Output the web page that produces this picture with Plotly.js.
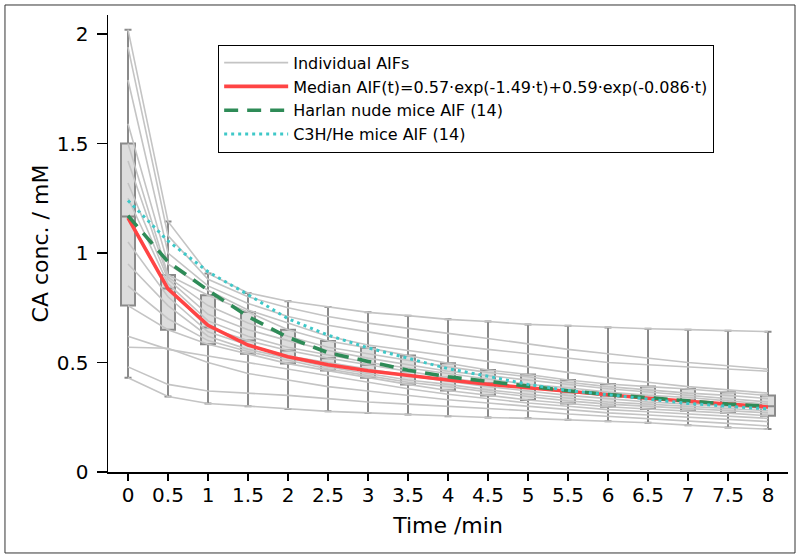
<!DOCTYPE html>
<html><head><meta charset="utf-8">
<script src="https://cdn.plot.ly/plotly-3.0.1.min.js"></script>
<style>html,body{margin:0;padding:0;background:#fff}#chart{width:800px;height:558px}</style>
</head><body><div id="chart"></div>
<script>
const times = [0,0.5,1,1.5,2,2.5,3,3.5,4,4.5,5,5.5,6,6.5,7,7.5,8];
const xTickLabels = ['0','0.5','1','1.5','2','2.5','3','3.5','4','4.5','5','5.5','6','6.5','7','7.5','8'];
const yTickVals = [0,0.5,1,1.5,2];
const yTickLabels = ['0','0.5','1','1.5','2'];

// individual AIF curves
const aif01 = [0.43,0.345,0.313,0.30,0.288,0.277,0.27,0.263,0.255,0.249,0.245,0.239,0.232,0.225,0.214,0.203,0.196];
const aif02 = [0.48,0.40,0.37,0.36,0.35,0.335,0.32,0.31,0.30,0.29,0.28,0.265,0.255,0.245,0.235,0.222,0.21];
const aif03 = [0.57,0.565,0.50,0.45,0.42,0.39,0.37,0.35,0.33,0.315,0.30,0.285,0.27,0.26,0.25,0.24,0.23];
const aif04 = [0.62,0.56,0.53,0.50,0.47,0.44,0.41,0.38,0.355,0.335,0.315,0.30,0.285,0.275,0.265,0.255,0.245];
const aif05 = [0.76,0.65,0.583,0.54,0.495,0.463,0.43,0.40,0.372,0.349,0.329,0.313,0.298,0.288,0.28,0.269,0.257];
const aif06 = [0.85,0.70,0.60,0.55,0.51,0.47,0.44,0.41,0.39,0.365,0.345,0.325,0.31,0.30,0.29,0.28,0.27];
const aif07 = [0.95,0.76,0.62,0.56,0.52,0.48,0.45,0.42,0.40,0.375,0.355,0.338,0.32,0.31,0.30,0.29,0.28];
const aif08 = [1.05,0.80,0.64,0.58,0.53,0.50,0.47,0.44,0.415,0.39,0.37,0.35,0.335,0.32,0.31,0.30,0.29];
const aif09 = [1.167,0.838,0.66,0.60,0.555,0.52,0.49,0.46,0.43,0.405,0.384,0.364,0.349,0.338,0.326,0.313,0.30];
const aif10 = [1.25,0.86,0.69,0.62,0.57,0.535,0.50,0.475,0.45,0.425,0.40,0.385,0.365,0.35,0.34,0.325,0.31];
const aif11 = [1.32,0.88,0.72,0.65,0.60,0.555,0.52,0.49,0.46,0.44,0.42,0.40,0.38,0.365,0.35,0.335,0.32];
const aif12 = [1.42,0.89,0.76,0.68,0.62,0.57,0.54,0.51,0.48,0.455,0.435,0.41,0.39,0.375,0.36,0.35,0.335];
const aif13 = [1.50,0.90,0.807,0.731,0.65,0.598,0.567,0.532,0.497,0.466,0.445,0.42,0.402,0.39,0.379,0.364,0.349];
const aif14 = [1.59,0.95,0.83,0.74,0.68,0.62,0.58,0.555,0.53,0.505,0.48,0.455,0.43,0.41,0.39,0.375,0.36];
const aif15 = [1.79,1.0,0.85,0.77,0.71,0.67,0.64,0.61,0.58,0.56,0.54,0.52,0.50,0.49,0.48,0.47,0.46];
const aif16 = [1.94,1.08,0.88,0.80,0.75,0.71,0.68,0.655,0.633,0.61,0.585,0.56,0.54,0.52,0.50,0.485,0.47];
const aif17 = [2.02,1.144,0.907,0.818,0.78,0.754,0.729,0.714,0.697,0.687,0.674,0.668,0.66,0.654,0.65,0.645,0.641];

// reference curves
const medianAIF = [1.160,0.836,0.670,0.580,0.526,0.490,0.462,0.440,0.420,0.401,0.384,0.368,0.352,0.337,0.323,0.310,0.297];
const harlanAIF = [1.17,0.96,0.83,0.71,0.615,0.545,0.505,0.465,0.435,0.413,0.392,0.371,0.354,0.338,0.322,0.31,0.30];
const c3hAIF = [1.24,1.055,0.915,0.81,0.70,0.625,0.567,0.52,0.472,0.437,0.40,0.372,0.352,0.33,0.313,0.30,0.288];

// box statistics per time point
const boxHi  = [2.02,1.144,0.907,0.818,0.78,0.754,0.729,0.714,0.697,0.687,0.674,0.668,0.66,0.654,0.65,0.645,0.641];
const boxQ3  = [1.50,0.90,0.807,0.731,0.65,0.598,0.567,0.532,0.497,0.466,0.445,0.42,0.402,0.39,0.379,0.364,0.349];
const boxMed = [1.167,0.838,0.66,0.60,0.555,0.52,0.49,0.46,0.43,0.405,0.384,0.364,0.349,0.338,0.326,0.313,0.30];
const boxQ1  = [0.76,0.65,0.583,0.54,0.495,0.463,0.43,0.40,0.372,0.349,0.329,0.313,0.298,0.288,0.28,0.269,0.257];
const boxLo  = [0.43,0.345,0.313,0.30,0.288,0.277,0.27,0.263,0.255,0.249,0.245,0.239,0.232,0.225,0.214,0.203,0.196];

const individual = [aif01,aif02,aif03,aif04,aif05,aif06,aif07,aif08,aif09,aif10,aif11,aif12,aif13,aif14,aif15,aif16,aif17];

const traces = [];
traces.push({
  type:'box', x: times, q1: boxQ1, median: boxMed, q3: boxQ3,
  lowerfence: boxLo, upperfence: boxHi, width: 0.175, whiskerwidth: 0.5,
  fillcolor:'rgba(198,198,198,0.6)', line:{color:'#8a8a8a', width:2},
  boxpoints:false, showlegend:false, hoverinfo:'skip'
});
individual.forEach((vals,i) => {
  traces.push({
    type:'scatter', mode:'lines', x: times, y: vals,
    name:'Individual AIFs', legendgroup:'ind', showlegend: i===0,
    line:{color:'#c4c4c4', width:1.6}
  });
});
traces.push({type:'scatter', mode:'lines', x:times, y:medianAIF,
  name:'Median AIF(t)=0.57·exp(-1.49·t)+0.59·exp(-0.086·t)', line:{color:'#ff4444', width:3.6}});
traces.push({type:'scatter', mode:'lines', x:times, y:harlanAIF,
  name:'Harlan nude mice AIF (14)', line:{color:'#2e8b57', width:3.6, dash:'14px,9px'}});
traces.push({type:'scatter', mode:'lines', x:times, y:c3hAIF,
  name:'C3H/He mice AIF (14)', line:{color:'#3ec8c8', width:3, dash:'3px,4px'}});

const font = 'DejaVu Sans, sans-serif';
const layout = {
  width:800, height:558,
  margin:{l:108, r:12, t:15, b:86},
  paper_bgcolor:'#fff', plot_bgcolor:'#fff',
  font:{family:font, color:'#000'},
  showlegend:true,
  legend:{x:0.162, y:0.935, xanchor:'left', yanchor:'top', bgcolor:'#fff',
    bordercolor:'#000', borderwidth:1, font:{size:16, family:font}, itemwidth:64,
    tracegroupgap:0},
  xaxis:{range:[-0.25,8.25], tickvals:times, ticktext:xTickLabels, ticks:'outside',
    ticklen:7, tickwidth:1.5, tickcolor:'#000', showline:true, linecolor:'#000', linewidth:1.5,
    showgrid:false, zeroline:false, tickfont:{size:20, family:font}, ticklabelstandoff:-3,
    title:{text:'Time /min', font:{size:22, family:font}, standoff:12}},
  yaxis:{range:[0,2.087], tickvals:yTickVals, ticktext:yTickLabels, ticks:'outside',
    ticklen:10, tickwidth:1.5, tickcolor:'#000', showline:true, linecolor:'#000', linewidth:1.5,
    showgrid:false, zeroline:false, tickfont:{size:20, family:font}, ticklabelstandoff:4,
    title:{text:'CA conc. / mM', font:{size:22, family:font}, standoff:2}},
  shapes:[{type:'rect', xref:'paper', yref:'paper', x0:-0.1515, x1:1.0103, y0:-0.1772, y1:1.0219,
    line:{color:'#333', width:1}, fillcolor:'rgba(0,0,0,0)', layer:'below'}]
};
Plotly.newPlot('chart', traces, layout, {displayModeBar:false, staticPlot:true});
</script></body></html>
